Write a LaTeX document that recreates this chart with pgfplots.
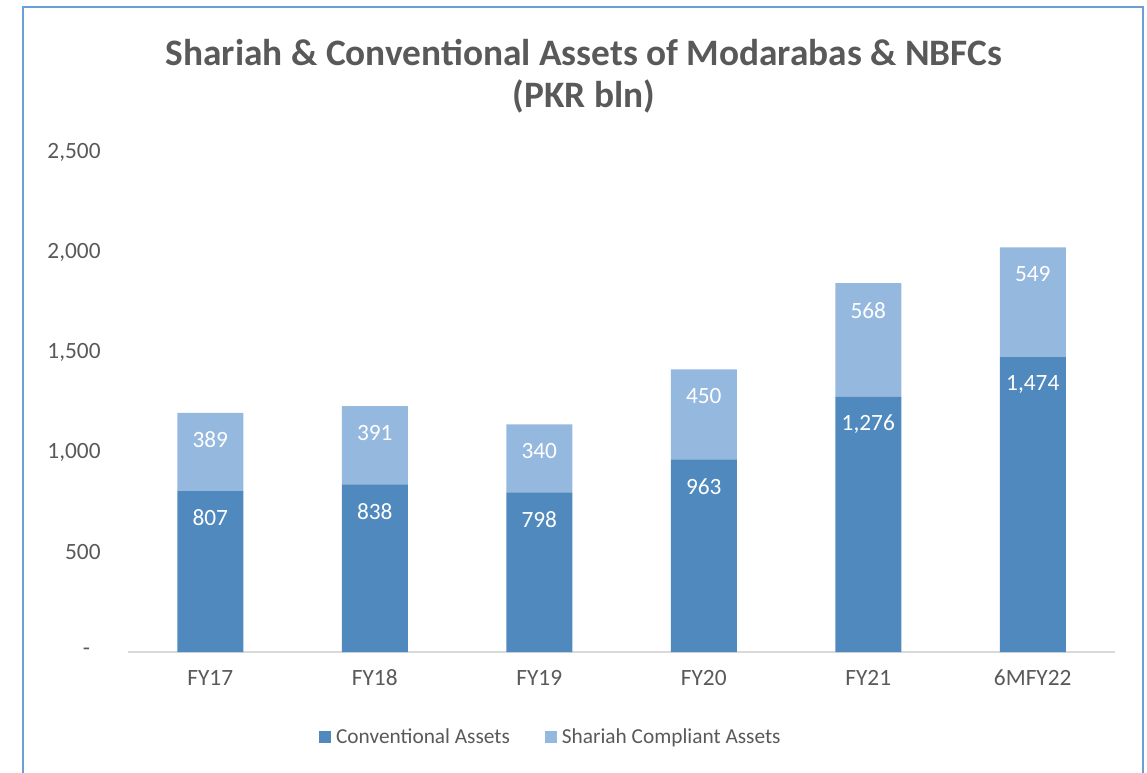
\documentclass[border=0pt]{standalone}
\usepackage{pgfplots}
\pgfplotsset{compat=1.18}
\usepackage{fontspec}
\setmainfont{Carlito}
\definecolor{conv}{HTML}{4F89BD}
\definecolor{shar}{HTML}{95B8DF}
\definecolor{txtgray}{HTML}{595959}
\definecolor{frame}{HTML}{6A9FD8}
\definecolor{axgray}{HTML}{D9D9D9}
\begin{document}
\begin{tikzpicture}
\useasboundingbox (0,0) rectangle (860.25pt,-579pt);
\draw[frame, line width=1.5pt] (17.25pt,-580pt) -- (17.25pt,-5.25pt) -- (857.25pt,-5.25pt) -- (857.25pt,-580pt);
\node[align=center, font=\fontsize{28}{31.5}\selectfont\bfseries, text=txtgray]
  at (438pt,-57pt) {Shariah \& Conventional Assets of Modarabas \& NBFCs\\(PKR bln)};
\begin{axis}[
  at={(96pt,-489pt)}, anchor=south west,
  scale only axis, width=740.25pt, height=375pt,
  ybar stacked, bar width=49.5pt,
  xmin=-0.5, xmax=5.5, ymin=0, ymax=2500,
  xtick=data,
  xticklabels={FY17,FY18,FY19,FY20,FY21,6MFY22},
  ytick={0,500,1000,1500,2000,2500},
  yticklabels={{-\kern8pt},500,{1,000},{1,500},{2,000},{2,500}},
  axis x line*=bottom, axis y line*=left,
  x axis line style={axgray, line width=1.1pt, -},
  y axis line style={draw=none},
  major tick length=0pt,
  tick label style={font=\fontsize{17.5}{20}\selectfont, text=txtgray},
  yticklabel style={xshift=-17pt},
  xticklabel style={yshift=-10pt},
  /pgf/number format/assume math mode=true,
  /pgf/number format/1000 sep={,},
  nodes near coords,
  visualization depends on={rawy \as \ry},
  every node near coord/.append style={anchor=center, yshift={0.075pt*\ry-20.25pt},
    font=\fontsize{17.5}{20}\selectfont, text=white},
  legend style={at={(0.4286,-0.17)}, anchor=center, draw=none, fill=none,
    legend columns=2, font=\fontsize{16}{20}\selectfont, text=txtgray,
    /tikz/every even column/.append style={column sep=24pt}},
  legend image code/.code={\fill[#1] (0pt,-4.5pt) rectangle (9pt,4.5pt); \path (11pt,0pt);},
]
\addplot[fill=conv, draw=none] coordinates {(0,807) (1,838) (2,798) (3,963) (4,1276) (5,1474)};
\addplot[fill=shar, draw=none] coordinates {(0,389) (1,391) (2,340) (3,450) (4,568) (5,549)};
\legend{Conventional Assets, Shariah Compliant Assets}
\end{axis}
\end{tikzpicture}
\end{document}
